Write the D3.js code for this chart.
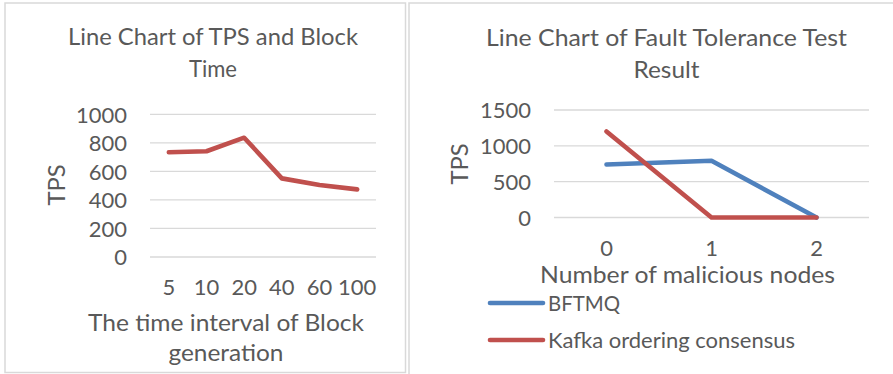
<!DOCTYPE html>
<html>
<head>
<meta charset="utf-8">
<script src="https://cdn.jsdelivr.net/npm/d3@7"></script>
<style>
  html, body { margin: 0; padding: 0; background: #fff; }
  svg { display: block; }
  text { font-family: Lato, "Open Sans", sans-serif; fill: #595959; }
</style>
</head>
<body>
<svg id="chart" width="893" height="374"></svg>
<script>
// ---- Data ----
const blockIntervals = ["5", "10", "20", "40", "60", "100"];
const tpsByInterval = [734, 741, 836, 551, 505, 474];
const leftTicks = [0, 200, 400, 600, 800, 1000];

const maliciousNodes = ["0", "1", "2"];
const bftmqTps = [740, 792, 0];
const kafkaTps = [1200, 0, 0];
const rightTicks = [0, 500, 1000, 1500];
const seriesNames = ["BFTMQ", "Kafka ordering consensus"];

// ---- Styles ----
const TEXT = "#595959", GRID = "#d9d9d9", BLUE = "#4f81bd", RED = "#c0504d";
const svg = d3.select("#chart");

// font size fitting: match Calibri-like widths with installed font
function fitSize(str, target) {
  const t = svg.append("text").attr("font-size", 100).text(str);
  const w = t.node().getComputedTextLength();
  t.remove();
  return 100 * target / w;
}
const BIG = fitSize("Line Chart of TPS and Block", 290);
const SMALL = fitSize("Kafka ordering consensus", 247);

// ---- Panels ----
svg.append("rect").attr("x", 5).attr("y", 3).attr("width", 400.5).attr("height", 369.5)
  .attr("fill", "none").attr("stroke", GRID).attr("stroke-width", 1.5);
svg.append("rect").attr("x", 409).attr("y", 3).attr("width", 600).attr("height", 500)
  .attr("fill", "none").attr("stroke", GRID).attr("stroke-width", 1.5);

function label(x, y, str, size, width) {
  const t = svg.append("text").attr("x", x).attr("y", y).attr("font-size", size)
    .attr("text-anchor", "middle").text(str);
  if (width) t.attr("textLength", width).attr("lengthAdjust", "spacingAndGlyphs");
  return t;
}

function drawChart(cfg) {
  const x = d3.scaleBand().domain(cfg.categories).range([cfg.x0, cfg.x1]).padding(0);
  const y = d3.scaleLinear().domain([0, cfg.ymax]).range([cfg.yb, cfg.yt]);
  const g = svg.append("g");

  // gridlines
  g.selectAll(".grid").data(cfg.ticks).join("line")
    .attr("x1", cfg.x0).attr("x2", cfg.x1)
    .attr("y1", d => y(d)).attr("y2", d => y(d))
    .attr("stroke", GRID).attr("stroke-width", 1.3);

  // y axis labels
  const ya = g.append("g").attr("transform", `translate(${cfg.ylabX},0)`)
    .call(d3.axisLeft(y).tickValues(cfg.ticks).tickSize(0).tickPadding(0).tickFormat(d3.format("d")));
  ya.select(".domain").remove();
  ya.selectAll("text").attr("font-size", SMALL).attr("fill", TEXT)
    .attr("font-family", "Lato, sans-serif").attr("dy", "0.36em");

  // x axis labels
  const xa = g.append("g").attr("transform", `translate(0,${cfg.xlabY})`)
    .call(d3.axisBottom(x).tickSize(0).tickPadding(0));
  xa.select(".domain").remove();
  xa.selectAll("text").attr("font-size", SMALL).attr("fill", TEXT)
    .attr("font-family", "Lato, sans-serif").attr("dy", 0);

  // lines
  const line = d3.line().x((d, i) => x(cfg.categories[i]) + x.bandwidth() / 2).y(d => y(d));
  cfg.series.forEach(s => {
    g.append("path").datum(s.values).attr("d", line)
      .attr("fill", "none").attr("stroke", s.color).attr("stroke-width", 4.6)
      .attr("stroke-linecap", "round").attr("stroke-linejoin", "round");
  });

  // titles
  cfg.title.forEach((t, i) => label(cfg.titleX, cfg.titleY[i], t, BIG, cfg.titleW[i]));
  cfg.xTitle.forEach((t, i) => label(cfg.xTitleX, cfg.xTitleY[i], t, BIG, cfg.xTitleW[i]));
  svg.append("text").attr("transform", `translate(${cfg.yTitleX},${cfg.yTitleY}) rotate(-90)`)
    .attr("text-anchor", "middle").attr("dy", "0.36em").attr("font-size", BIG).text("TPS");
}

drawChart({
  categories: blockIntervals, ticks: leftTicks, ymax: 1000,
  x0: 150, x1: 376, yb: 257, yt: 114.3,
  ylabX: 127, xlabY: 295,
  series: [{ values: tpsByInterval, color: RED }],
  title: ["Line Chart of TPS and Block", "Time"], titleX: 213, titleY: [45, 76.5], titleW: [290, 48],
  xTitle: ["The time interval of Block", "generation"], xTitleX: 226, xTitleY: [331, 361], xTitleW: [276, 115],
  yTitleX: 56, yTitleY: 185
});

drawChart({
  categories: maliciousNodes, ticks: rightTicks, ymax: 1500,
  x0: 554, x1: 869, yb: 217.5, yt: 110,
  ylabX: 531, xlabY: 256,
  series: [{ values: bftmqTps, color: BLUE }, { values: kafkaTps, color: RED }],
  title: ["Line Chart of Fault Tolerance Test", "Result"], titleX: 666.5, titleY: [46, 78], titleW: [361, 66],
  xTitle: ["Number of malicious nodes"], xTitleX: 687.5, xTitleY: [283], xTitleW: [295],
  yTitleX: 459, yTitleY: 164
});

// legend
const legend = svg.append("g");
const legendY = [303, 340];
const legendW = [72, 247];
seriesNames.forEach((name, i) => {
  legend.append("line").attr("x1", 490).attr("x2", 543).attr("y1", legendY[i]).attr("y2", legendY[i])
    .attr("stroke", [BLUE, RED][i]).attr("stroke-width", 4.6).attr("stroke-linecap", "round");
  legend.append("text").attr("x", 548).attr("y", legendY[i]).attr("dy", "0.36em")
    .attr("font-size", SMALL).attr("textLength", legendW[i]).attr("lengthAdjust", "spacingAndGlyphs")
    .text(name);
});
</script>
</body>
</html>
